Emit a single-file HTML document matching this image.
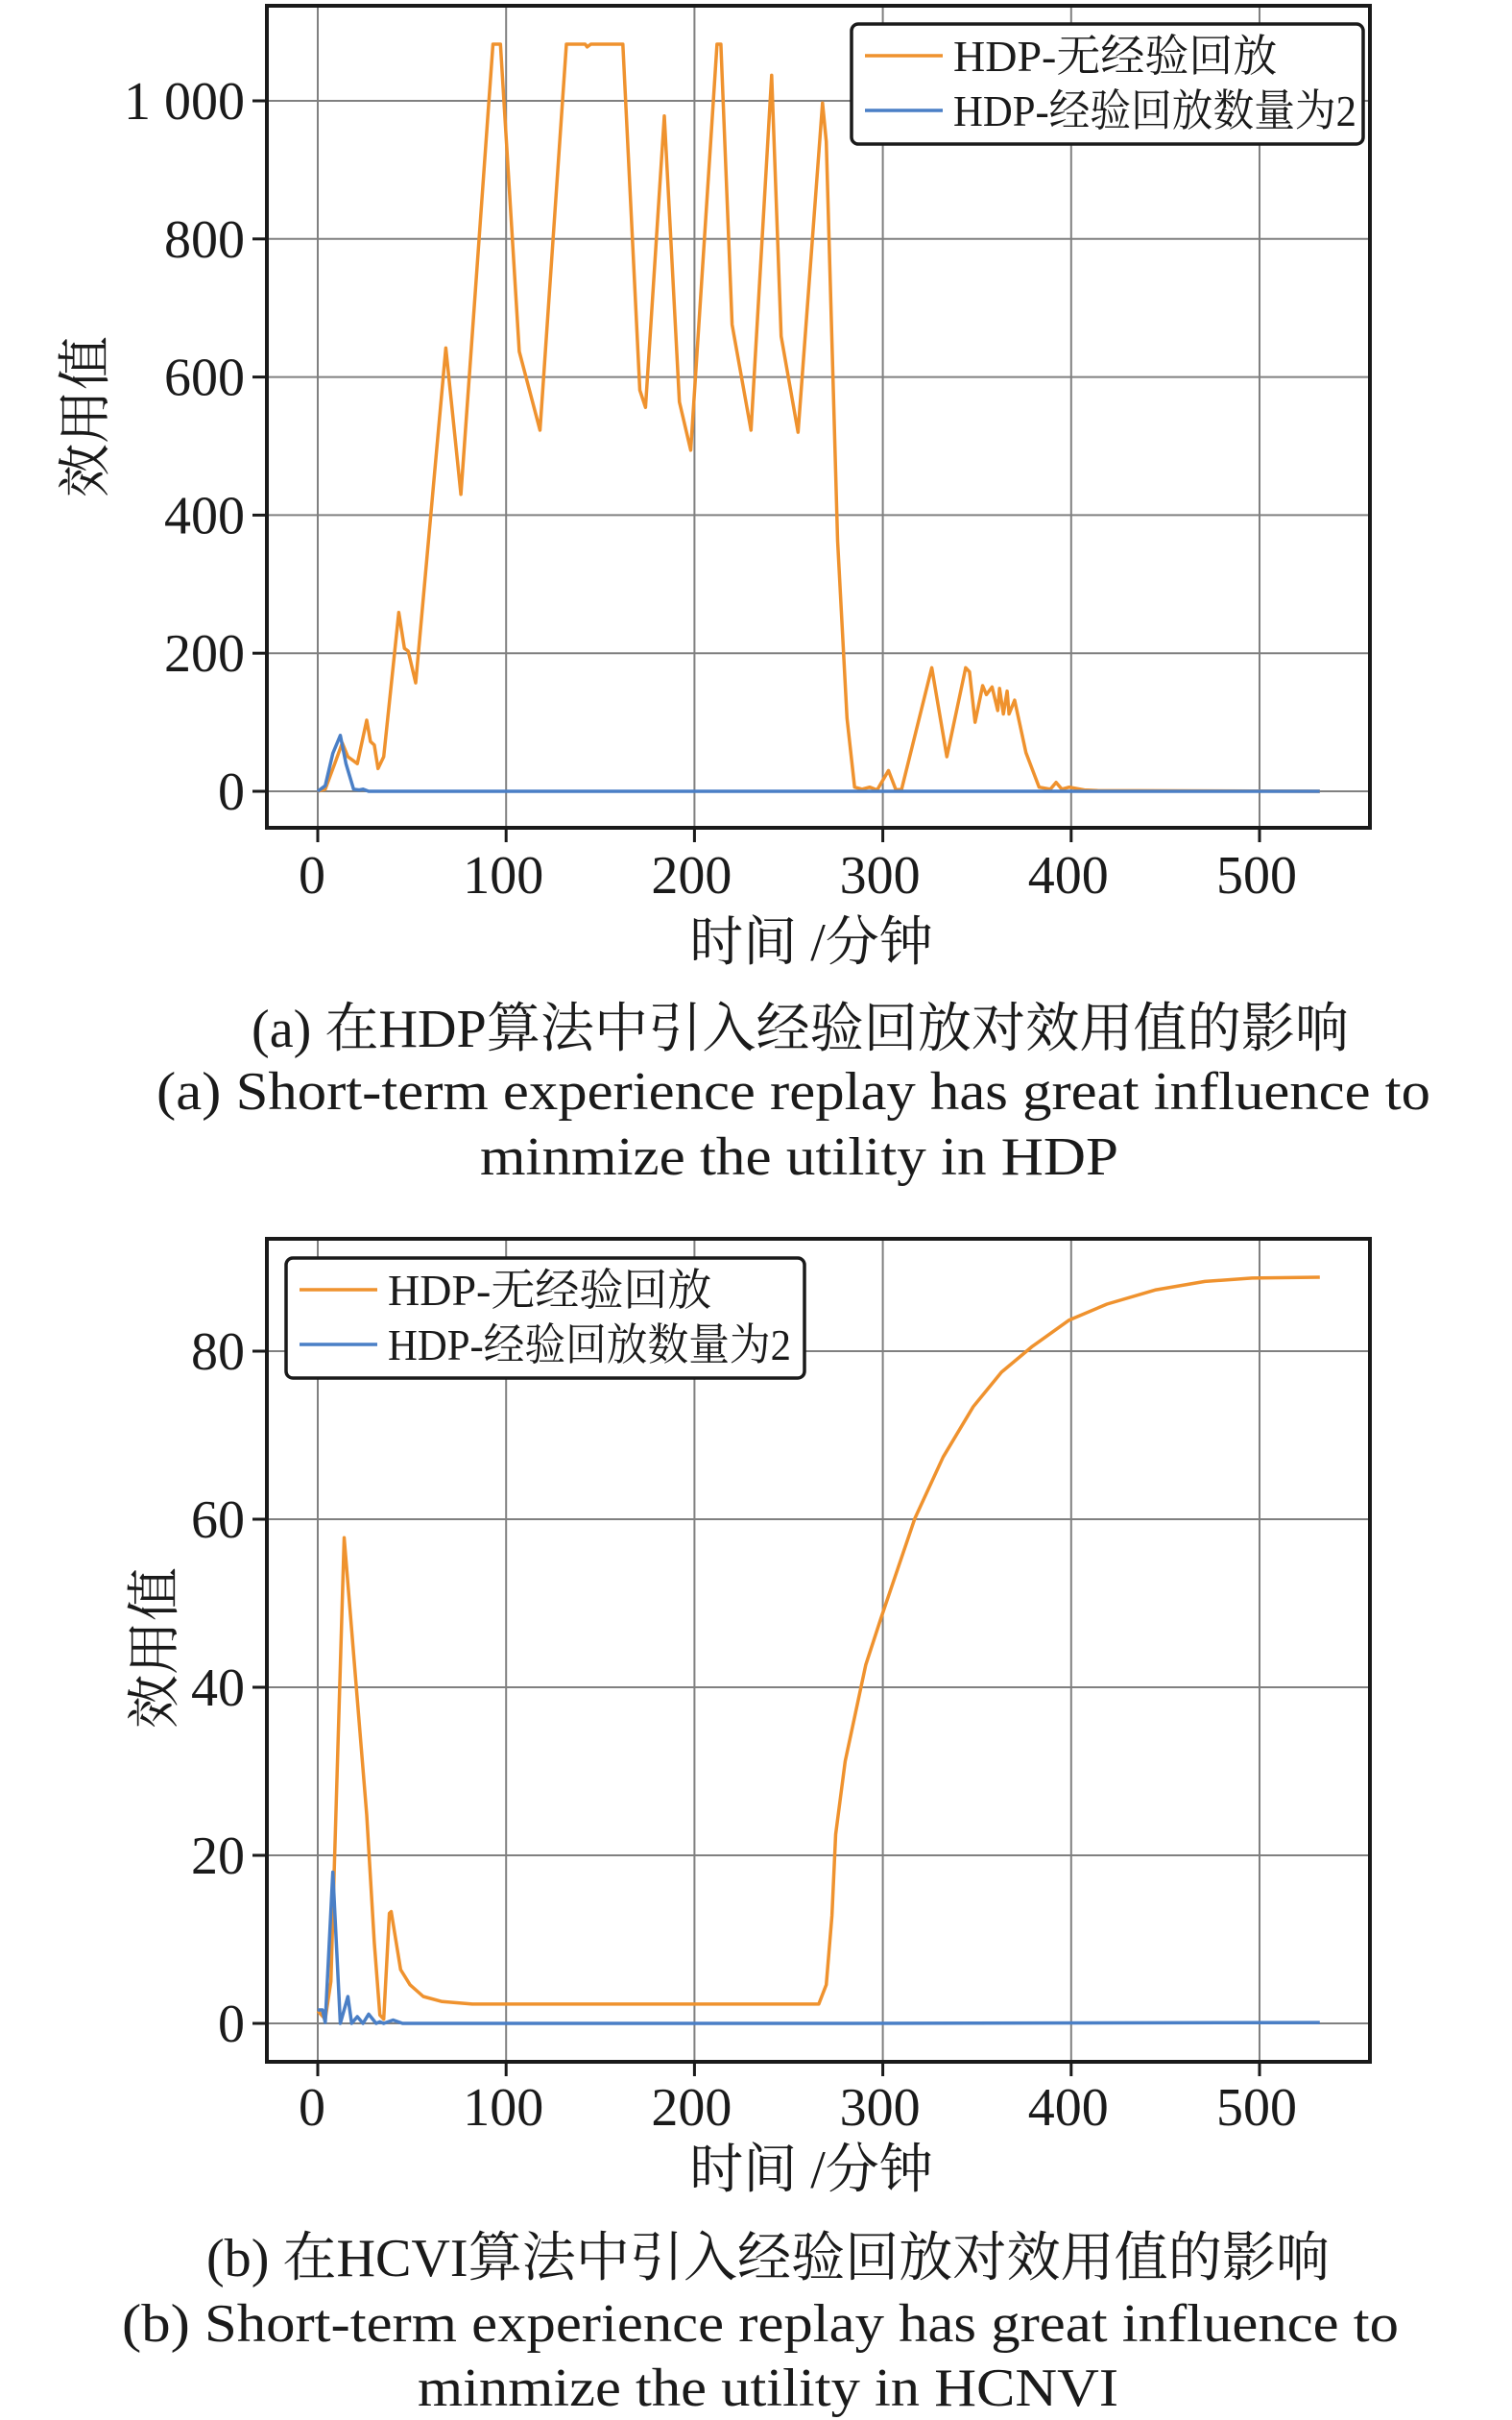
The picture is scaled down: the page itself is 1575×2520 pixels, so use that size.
<!DOCTYPE html>
<html><head><meta charset="utf-8"><style>
html,body{margin:0;padding:0;background:#fff;}
svg{display:block;}
text{font-family:"Liberation Serif","Noto Serif CJK SC",serif;fill:#1a1a1a;}
</style></head><body>
<svg id="fig" width="1575" height="2520" viewBox="0 0 1575 2520" xmlns="http://www.w3.org/2000/svg">
<g id="c1"></g>
<g id="c2"></g>
</svg>
<script>
// Chart (a) data
const a_xTicks = [0,100,200,300,400,500];
const a_yTicks = [0,200,400,600,800,1000];
const a_yTickLabels = ["0","200","400","600","800","1 000"];
const a_orangeT = [0,4,9,13,16,21,26,28,30,32,35,43,46,48,52,68,76,93,97,107,118,132,142,143,145,162,171,174,184,192,198,212,214,220,230,241,246,255,268,270,276,281,285,289,293,297,303,307,310,326,334,344,346,349,353,355,358,361,362,364,366,367,370,376,383,389,392,395,399,407,414,532];
const a_orangeV = [0,3,40,70,50,40,103,72,67,33,50,259,207,203,157,642,430,1082,1082,637,523,1082,1082,1078,1082,1082,581,556,978,564,494,1082,1082,676,523,1037,659,520,997,941,363,106,6,3,6,2,30,2,3,179,50,179,173,100,153,140,151,117,149,112,145,112,132,56,6,3,13,3,6,2,1,0];
const a_blueT = [0,4,8,12,15,19,22,24,27,532];
const a_blueV = [0,8,55,81,40,3,2,3,0,0];

// Chart (b) data
const b_xTicks = [0,100,200,300,400,500];
const b_yTicks = [0,20,40,60,80];
const b_yTickLabels = ["0","20","40","60","80"];
const b_orangeT = [0,4,7,14,26,30,33,35,38,39,44,49,56,66,82,266,270,273,275,280,291,299,317,332,348,363,379,399,419,445,471,496,532];
const b_orangeV = [1.5,0.5,5,57.8,24.8,9.6,1,0.5,13.1,13.3,6.4,4.6,3.2,2.6,2.3,2.3,4.6,12.8,22.5,31.2,42.7,48.2,60.1,67.4,73.4,77.5,80.5,83.7,85.6,87.3,88.3,88.7,88.8];
const b_blueT = [0,2.5,4,8,12,16,18,21,24,27,31,33,35,40,45,270,532];
const b_blueV = [1.6,1.6,0.1,18,0,3.2,0,0.8,0,1.1,0,0.2,0,0.4,0,0,0.1];

const NS = "http://www.w3.org/2000/svg";
const ORANGE = "#ef922e", BLUE = "#4a7fc6";
function mk(parent, tag, attrs, txt){
  const e = document.createElementNS(NS, tag);
  for (const k in attrs) e.setAttribute(k, attrs[k]);
  if (txt !== undefined) e.textContent = txt;
  parent.appendChild(e);
  return e;
}

function drawChart(g, cfg){
  const L=278, R=1427, T=cfg.top, B=cfg.bottom;
  const xs = t => 331 + t*1.962;
  const ys = v => cfg.y0 - v*cfg.ppu;
  cfg.xTicks.forEach(t=>{
    const l = mk(g,'line',{x1:xs(t),x2:xs(t),y1:T,y2:B,stroke:'#808080','stroke-width':2});
    
    
  });
  cfg.yTicks.forEach(v=>{
    const l = mk(g,'line',{x1:L,x2:R,y1:ys(v),y2:ys(v),stroke:'#808080','stroke-width':2});
    
    
  });
  const ser = (T_, V_, col, name) => {
    const d = T_.map((t,i)=>(i?'L':'M')+xs(t).toFixed(1)+' '+ys(V_[i]).toFixed(1)).join(' ');
    const p = mk(g,'path',{d:d,fill:'none',stroke:col,'stroke-width':3.5,'stroke-linejoin':'round'});
    
    
  };
  ser(cfg.oT, cfg.oV, ORANGE, 'series-no-replay');
  ser(cfg.bT, cfg.bV, BLUE, 'series-replay-2');
  const fr = mk(g,'rect',{x:L,y:T,width:R-L,height:B-T,fill:'none',stroke:'#1a1a1a','stroke-width':4});
  
  
  cfg.xTicks.forEach(t=>{
    mk(g,'line',{x1:xs(t),x2:xs(t),y1:B,y2:B+15,stroke:'#1a1a1a','stroke-width':3});
    const tx = mk(g,'text',{x:xs(t)-(t===0?6:3),y:cfg.xLabY,'font-size':56,'text-anchor':'middle'}, String(t));
    
    
  });
  cfg.yTicks.forEach((v,i)=>{
    mk(g,'line',{x1:L-15,x2:L,y1:ys(v),y2:ys(v),stroke:'#1a1a1a','stroke-width':3});
    const tx = mk(g,'text',{x:255,y:ys(v)+19,'font-size':56,'text-anchor':'end'}, cfg.yLabels[i]);
    
    
  });
  const lg = mk(g,'g',{});
  
  
  const lx = cfg.legX, ly = cfg.legY;
  mk(lg,'rect',{x:lx,y:ly,width:cfg.legW,height:125,rx:7,fill:'#fff',stroke:'#1a1a1a','stroke-width':3.5});
  const e1 = mk(lg,'g',{});
  
  
  mk(e1,'line',{x1:lx+14,x2:lx+95,y1:ly+33,y2:ly+33,stroke:ORANGE,'stroke-width':3.5});
  mk(e1,'text',{x:lx+106,y:ly+49,'font-size':46}, 'HDP-无经验回放');
  const e2 = mk(lg,'g',{});
  
  
  mk(e2,'line',{x1:lx+14,x2:lx+95,y1:ly+90,y2:ly+90,stroke:BLUE,'stroke-width':3.5});
  mk(e2,'text',{x:lx+106,y:ly+106,'font-size':46,textLength:420,lengthAdjust:'spacingAndGlyphs'}, 'HDP-经验回放数量为2');
  const xt = mk(g,'text',{x:845,y:cfg.xTitleY,'font-size':56,'text-anchor':'middle'}, '时间 /分钟');
  
  
  const yt = mk(g,'text',{x:0,y:0,'font-size':56,'text-anchor':'middle',transform:`translate(${cfg.yTitleX},${cfg.yTitleY}) rotate(-90)`}, '效用值');
  
  
  cfg.caps.forEach((c,i)=>{
    const t = mk(g,'text',{x:c[1],y:c[2],'font-size':56,textLength:c[3]-c[1],lengthAdjust:'spacingAndGlyphs'}, c[0]);
    
    
  });
}

drawChart(document.getElementById('c1'), {
  top:6, bottom:862, y0:824, ppu:0.719,
  xTicks:a_xTicks, yTicks:a_yTicks, yLabels:a_yTickLabels,
  oT:a_orangeT, oV:a_orangeV, bT:a_blueT, bV:a_blueV,
  xLabY:930, legX:887, legY:25, legW:533,
  xTitleY:1000, yTitleX:108, yTitleY:434,
  caps:[["(a) 在HDP算法中引入经验回放对效用值的影响",262,1090,1405],
        ["(a) Short-term experience replay has great influence to",163,1155,1490],
        ["minmize the utility in HDP",500,1223,1165]]
});
drawChart(document.getElementById('c2'), {
  top:1290, bottom:2147, y0:2107, ppu:8.75,
  xTicks:b_xTicks, yTicks:b_yTicks, yLabels:b_yTickLabels,
  oT:b_orangeT, oV:b_orangeV, bT:b_blueT, bV:b_blueV,
  xLabY:2213, legX:298, legY:1310, legW:540,
  xTitleY:2278, yTitleX:180, yTitleY:1716,
  caps:[["(b) 在HCVI算法中引入经验回放对效用值的影响",215,2370,1385],
        ["(b) Short-term experience replay has great influence to",127,2438,1457],
        ["minmize the utility in HCNVI",435,2505,1165]]
});
</script>
</body></html>
